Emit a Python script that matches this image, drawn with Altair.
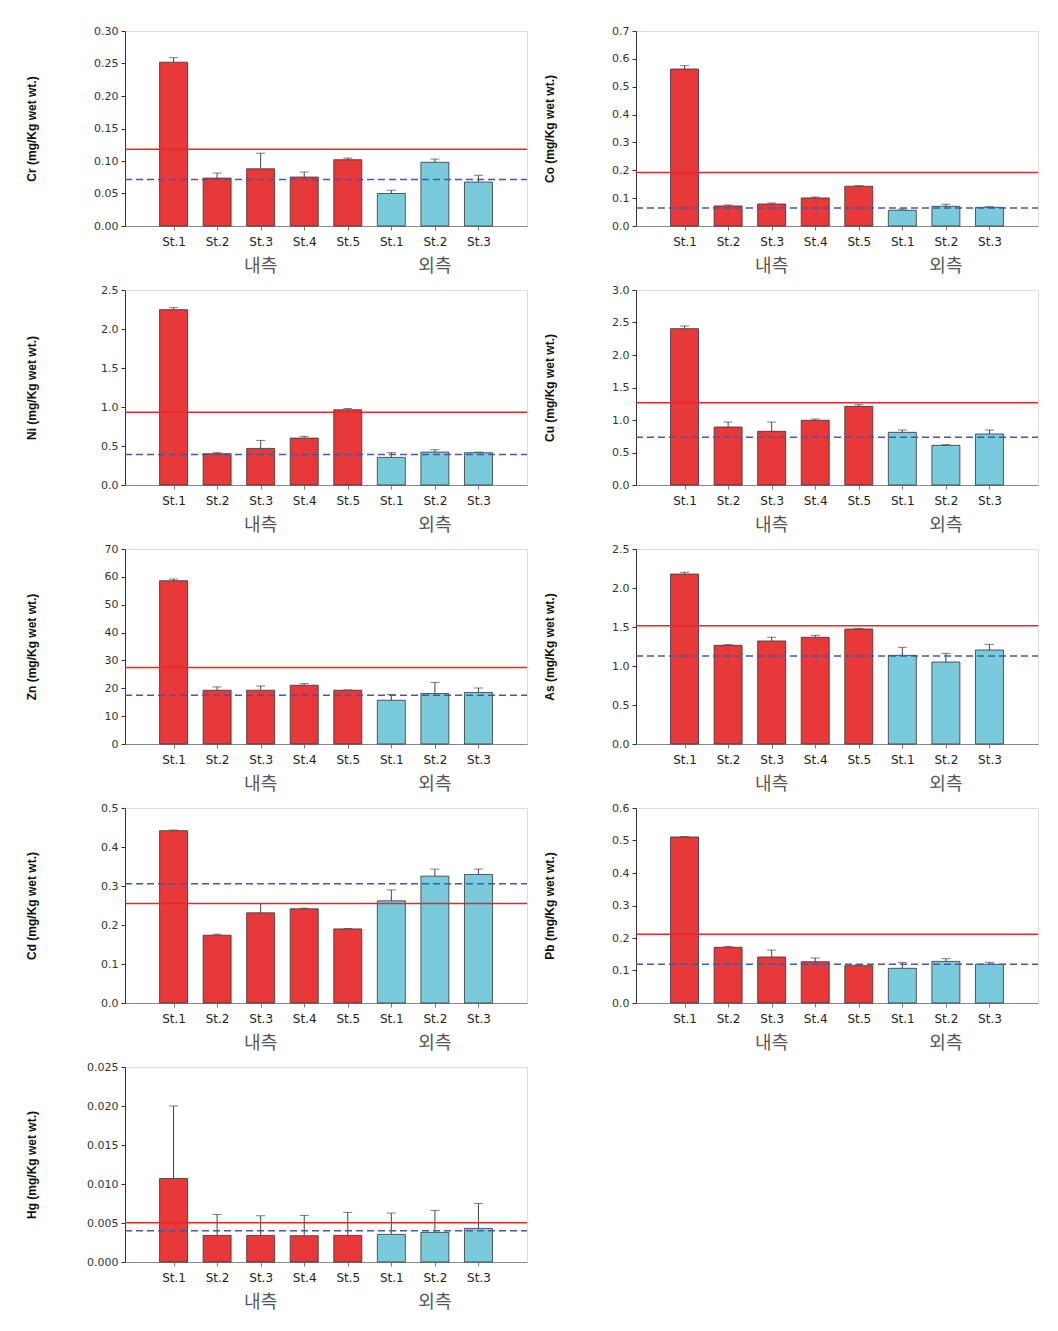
import altair as alt
import pandas as pd

# ---------------- data ----------------
stations = ["St.1", "St.2", "St.3", "St.4", "St.5", "St.1", "St.2", "St.3"]
groups = ["내측"] * 5 + ["외측"] * 3
group_names = ["내측", "외측"]
bar_colors = ["#E8393A", "#79CBDB"]

metals = ["Cr", "Co", "Ni", "Cu", "Zn", "As", "Cd", "Pb", "Hg"]

cr_mean = [0.252, 0.0737, 0.088, 0.0753, 0.102, 0.050, 0.098, 0.0676]
cr_upper = [0.259, 0.0814, 0.112, 0.083, 0.1045, 0.055, 0.103, 0.078]
co_mean = [0.5635, 0.072, 0.079, 0.1007, 0.1427, 0.0564, 0.0707, 0.067]
co_upper = [0.5755, 0.0755, 0.0827, 0.104, 0.145, 0.061, 0.078, 0.0695]
ni_mean = [2.248, 0.401, 0.469, 0.601, 0.964, 0.354, 0.422, 0.414]
ni_upper = [2.274, 0.414, 0.572, 0.623, 0.981, 0.414, 0.452, 0.422]
cu_mean = [2.405, 0.892, 0.826, 0.995, 1.210, 0.810, 0.610, 0.785]
cu_upper = [2.446, 0.969, 0.969, 1.015, 1.236, 0.846, 0.621, 0.846]
zn_mean = [58.6, 19.3, 19.3, 21.1, 19.3, 15.7, 18.1, 18.5]
zn_upper = [59.2, 20.5, 20.8, 21.7, 19.4, 17.8, 22.1, 20.1]
as_mean = [2.179, 1.265, 1.321, 1.368, 1.474, 1.137, 1.051, 1.205]
as_upper = [2.201, 1.274, 1.368, 1.393, 1.483, 1.239, 1.162, 1.278]
cd_mean = [0.4418, 0.1738, 0.2312, 0.2414, 0.190, 0.262, 0.3253, 0.3296]
cd_upper = [0.4435, 0.1764, 0.2551, 0.2432, 0.191, 0.290, 0.3433, 0.3433]
pb_mean = [0.5108, 0.1713, 0.1415, 0.127, 0.1149, 0.1067, 0.128, 0.119]
pb_upper = [0.512, 0.1744, 0.163, 0.1385, 0.118, 0.125, 0.1364, 0.125]
hg_mean = [0.01071, 0.00341, 0.00341, 0.00337, 0.00341, 0.00354, 0.0038, 0.00431]
hg_upper = [0.0200, 0.0061, 0.00593, 0.00597, 0.00636, 0.00627, 0.00661, 0.00751]

# reference lines: red solid, blue dashed
red_line = [0.118, 0.192, 0.934, 1.267, 27.5, 1.517, 0.2551, 0.2113, 0.00503]
blue_line = [0.0717, 0.0647, 0.392, 0.733, 17.5, 1.128, 0.3057, 0.119, 0.00401]

# axis maxima, tick steps, label formats
y_max = [0.30, 0.7, 2.5, 3.0, 70, 2.5, 0.5, 0.6, 0.025]
y_step = [0.05, 0.1, 0.5, 0.5, 10, 0.5, 0.1, 0.1, 0.005]
y_fmt = [".2f", ".1f", ".1f", ".1f", "d", ".1f", ".1f", ".1f", ".3f"]

means = [cr_mean, co_mean, ni_mean, cu_mean, zn_mean, as_mean, cd_mean, pb_mean, hg_mean]
uppers = [cr_upper, co_upper, ni_upper, cu_upper, zn_upper, as_upper, cd_upper, pb_upper, hg_upper]

# ---------------- chart ----------------
W, H = 402, 195
positions = list(range(1, len(stations) + 1))
label_expr = "[" + ",".join(["''"] + ["'%s'" % s for s in stations]) + "][datum.value]"

grp_pos = []
for g in group_names:
    ps = [p for p, gg in zip(positions, groups) if gg == g]
    grp_pos.append(sum(ps) / len(ps))


def panel(i, title_x):
    metal = metals[i]
    df = pd.DataFrame({"pos": positions, "station": stations, "group": groups,
                       "mean": means[i], "upper": uppers[i]})
    red_df = pd.DataFrame({"value": [red_line[i]]})
    blue_df = pd.DataFrame({"value": [blue_line[i]]})
    glab = pd.DataFrame({"group": group_names, "pos": grp_pos})

    xs = alt.Scale(domain=[0, len(stations) + 1], nice=False)
    ys = alt.Scale(domain=[0, y_max[i]], nice=False)
    n = int(round(y_max[i] / y_step[i]))
    yvals = [round(k * y_step[i], 6) for k in range(n + 1)]

    xax = alt.Axis(values=positions, labelExpr=label_expr, title=None, grid=False,
                   tickSize=4, labelPadding=6, labelFont="DejaVu Sans", labelFontSize=12,
                   labelColor="#222", domainColor="#888", tickColor="#777",
                   labelOverlap=False)
    yax = alt.Axis(values=yvals, tickCount=len(yvals), format=y_fmt[i],
                   title=f"{metal} (mg/Kg wet wt.)",
                   titleX=title_x, titleY=H / 2, titleFont="Liberation Sans",
                   titleFontSize=12, titleFontWeight="bold", titleColor="#111",
                   grid=False, tickSize=4, labelPadding=3, labelFont="DejaVu Sans",
                   labelFontSize=11, labelColor="#333", domainColor="#333", tickColor="#333",
                   labelOverlap=False, labelFlush=False)

    X = lambda: alt.X("pos:Q", scale=xs, axis=xax)
    Y = lambda f: alt.Y(f, scale=ys, axis=yax)

    base = alt.Chart(df)
    bars = base.mark_bar(size=28, stroke="#333", strokeWidth=0.8).encode(
        x=X(),
        y=Y("mean:Q"),
        color=alt.Color("group:N", scale=alt.Scale(domain=group_names, range=bar_colors), legend=None),
    )
    err = base.mark_rule(color="#444", strokeWidth=1).encode(
        x=X(), y=Y("mean:Q"), y2="upper:Q")
    caps = base.mark_tick(orient="horizontal", size=9, thickness=1, color="#444").encode(
        x=X(), y=Y("upper:Q"))
    red_rule = alt.Chart(red_df).mark_rule(color="#E8262E", strokeWidth=1.5).encode(
        y=Y("value:Q"), x=alt.value(0), x2=alt.value(W))
    blue_rule = alt.Chart(blue_df).mark_rule(color="#4656AA", strokeWidth=1.5,
                                             strokeDash=[7, 4]).encode(
        y=Y("value:Q"), x=alt.value(0), x2=alt.value(W))
    text = alt.Chart(glab).mark_text(font="Noto Sans CJK KR", fontSize=18, color="#555",
                                     baseline="middle").encode(
        x=X(), y=alt.value(H + 41), text="group:N")
    return alt.layer(bars, err, caps, red_rule, blue_rule, text).properties(width=W, height=H)


TL, TR = -87, -80
rows = []
for r in range(4):
    rows.append(alt.hconcat(panel(2 * r, TL), panel(2 * r + 1, TR), spacing=13))
rows.append(panel(8, TL))

chart = alt.vconcat(*rows, spacing=6).properties(
    padding={"left": 24, "top": 24, "right": 5, "bottom": 5}
).configure_view(stroke="#8a8a8a", strokeWidth=1).configure(background="white")

chart.save("out.html", embed_options={"renderer": "svg", "actions": False})
